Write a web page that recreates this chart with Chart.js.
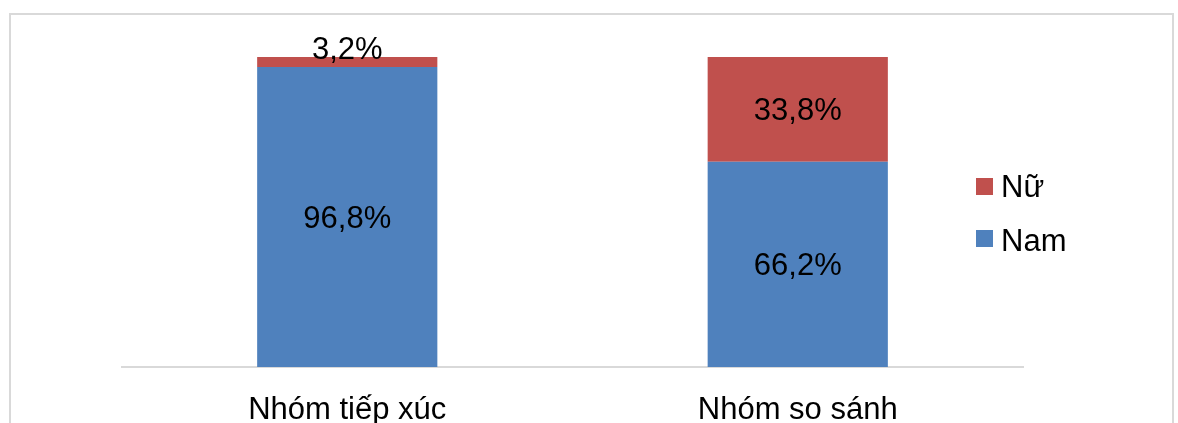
<!DOCTYPE html>
<html>
<head>
<meta charset="utf-8">
<script src="https://cdn.jsdelivr.net/npm/chart.js@4"></script>
<style>
  html, body { margin: 0; padding: 0; background: #fff; }
  #wrap { width: 1178px; height: 423px; position: relative; }
</style>
</head>
<body>
<div id="wrap"><canvas id="c" width="1178" height="423"></canvas></div>
<script>
// Groups and gender shares (%)
const categories = ['Nhóm tiếp xúc', 'Nhóm so sánh'];
const namValues = [96.8, 66.2];
const nuValues = [3.2, 33.8];
const seriesNames = ['Nam', 'Nữ'];
const seriesColors = ['#4f81bd', '#c0504d'];

const FONT = 'Arial, "Liberation Sans", sans-serif';
const FONT_SIZE = 31;

function fmt(v) { return v.toFixed(1).replace('.', ',') + '%'; }

// Frame around the whole figure
const framePlugin = {
  id: 'frame',
  beforeDraw(chart) {
    const ctx = chart.ctx;
    ctx.save();
    ctx.strokeStyle = '#d9d9d9';
    ctx.lineWidth = 2;
    ctx.strokeRect(10, 14, 1163, 430);
    ctx.restore();
  }
};

// Percentage labels centred on each segment
const valueLabels = {
  id: 'valueLabels',
  afterDatasetsDraw(chart) {
    const ctx = chart.ctx;
    ctx.save();
    ctx.font = FONT_SIZE + 'px ' + FONT;
    ctx.fillStyle = '#000';
    ctx.textAlign = 'center';
    ctx.textBaseline = 'alphabetic';
    chart.data.datasets.forEach((ds, di) => {
      const meta = chart.getDatasetMeta(di);
      meta.data.forEach((bar, i) => {
        const v = ds.data[i];
        const top = Math.min(bar.y, bar.base);
        const h = Math.abs(bar.base - bar.y);
        let y = top + h / 2 + 11;
        if (h < 30) y = top + 1.5; // thin segment: sit the label on its top edge
        ctx.fillText(fmt(v), bar.x, y);
      });
    });
    ctx.restore();
  }
};

// Legend on the right, upper series listed first
const sideLegend = {
  id: 'sideLegend',
  afterDraw(chart) {
    const ctx = chart.ctx;
    ctx.save();
    ctx.font = FONT_SIZE + 'px ' + FONT;
    ctx.textBaseline = 'alphabetic';
    ctx.textAlign = 'left';
    const x = 976, size = 17;
    const rows = [1, 0];
    rows.forEach((di, k) => {
      const cy = 186.5 + k * 52;
      ctx.fillStyle = seriesColors[di];
      ctx.fillRect(x, cy - size / 2, size, size);
      ctx.fillStyle = '#000';
      ctx.fillText(seriesNames[di], x + 25, 197 + k * 54);
    });
    ctx.restore();
  }
};

new Chart(document.getElementById('c'), {
  type: 'bar',
  data: {
    labels: categories,
    datasets: [
      { label: seriesNames[0], data: namValues, backgroundColor: seriesColors[0], categoryPercentage: 1, barPercentage: 0.4 },
      { label: seriesNames[1], data: nuValues, backgroundColor: seriesColors[1], categoryPercentage: 1, barPercentage: 0.4 }
    ]
  },
  options: {
    responsive: false,
    animation: false,
    layout: { padding: { left: 122, right: 155, top: 57, bottom: 0 } },
    plugins: { legend: { display: false }, tooltip: { enabled: false } },
    scales: {
      x: {
        stacked: true,
        grid: { display: false },
        border: { color: '#d9d9d9', width: 2 },
        ticks: { color: '#000', font: { family: FONT, size: FONT_SIZE }, padding: 17, maxRotation: 0 },
        afterFit(scale) { scale.height = 56; }
      },
      y: {
        stacked: true,
        display: false,
        min: 0,
        max: 100
      }
    }
  },
  plugins: [framePlugin, valueLabels, sideLegend]
});
</script>
</body>
</html>
